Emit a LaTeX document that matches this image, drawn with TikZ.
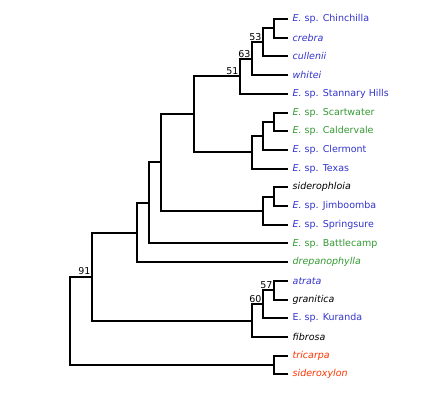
\documentclass[tikz,border=0pt]{standalone}
\usepackage{fontspec}
\setmainfont{DejaVu Sans}
\usepackage{tikz}
\usetikzlibrary{positioning}
\definecolor{cladeblue}{RGB}{51,51,204}
\definecolor{cladegreen}{RGB}{51,153,51}
\definecolor{cladered}{RGB}{255,51,0}
\tikzstyle{branch}=[line width=2pt, line cap=rect]
\tikzstyle{taxon}=[anchor=west, inner xsep=5.5pt, inner ysep=0pt, font=\fontsize{9.5}{11}\selectfont]
\tikzstyle{support}=[anchor=south east, inner sep=1.4pt, font=\fontsize{9.5}{11}\selectfont]

\begin{document}
\begin{tikzpicture}[x=1pt, y=-1pt]
      \useasboundingbox (0,0) rectangle (421,392);

      % leaves
      \node[taxon, cladeblue] (chin) at (287,19) {\textit{E.} sp. Chinchilla};
      \node[taxon, cladeblue] (creb) at (287,37.7) {\textit{crebra}};
      \node[taxon, cladeblue] (cull) at (287,56.4) {\textit{cullenii}};
      \node[taxon, cladeblue] (whit) at (287,75.1) {\textit{whitei}};
      \node[taxon, cladeblue] (stan) at (287,93.8) {\textit{E.} sp. Stannary Hills};
      \node[taxon, cladegreen] (scar) at (287,112.5) {\textit{E.} sp. Scartwater};
      \node[taxon, cladegreen] (cald) at (287,131.2) {\textit{E.} sp. Caldervale};
      \node[taxon, cladeblue] (cler) at (287,149.9) {\textit{E.} sp. Clermont};
      \node[taxon, cladeblue] (texa) at (287,168.6) {\textit{E.} sp. Texas};
      \node[taxon] (sidp) at (287,187.3) {\textit{siderophloia}};
      \node[taxon, cladeblue] (jimb) at (287,206) {\textit{E.} sp. Jimboomba};
      \node[taxon, cladeblue] (spri) at (287,224.7) {\textit{E.} sp. Springsure};
      \node[taxon, cladegreen] (batt) at (287,243.4) {\textit{E.} sp. Battlecamp};
      \node[taxon, cladegreen] (drep) at (287,262.1) {\textit{drepanophylla}};
      \node[taxon, cladeblue] (atra) at (287,280.8) {\textit{atrata}};
      \node[taxon] (gran) at (287,299.5) {\textit{granitica}};
      \node[taxon, cladeblue] (kura) at (287,318.2) {E. sp. Kuranda};
      \node[taxon] (fibr) at (287,336.9) {\textit{fibrosa}};
      \node[taxon, cladered] (tric) at (287,355.6) {\textit{tricarpa}};
      \node[taxon, cladered] (sidx) at (287,374.3) {\textit{sideroxylon}};

      % internal nodes
      \coordinate (cA) at (274,28.35);
      \coordinate (n53) at (263,42.38);
      \coordinate (n63) at (252,58.74);
      \coordinate (n51) at (240,76.27);
      \coordinate (cB) at (274,121.85);
      \coordinate (cC) at (263,135.88);
      \coordinate (cD) at (252,152.24);
      \coordinate (cE) at (194,114.25);
      \coordinate (cF) at (274,196.65);
      \coordinate (cG) at (263,210.68);
      \coordinate (cH) at (161,162.46);
      \coordinate (cI) at (149,202.93);
      \coordinate (cJ) at (137,232.5);
      \coordinate (n57) at (274,290.15);
      \coordinate (n60) at (263,304.18);
      \coordinate (cK) at (252,320.54);
      \coordinate (n91) at (92,276.52);
      \coordinate (cL) at (274,364.95);
      \coordinate (root) at (70,320.7);

      % branches
      \draw[branch] (cA) |- (chin.west) (cA) |- (creb.west);
      \draw[branch] (n53) |- (cA) (n53) |- (cull.west);
      \draw[branch] (n63) |- (n53) (n63) |- (whit.west);
      \draw[branch] (n51) |- (n63) (n51) |- (stan.west);
      \draw[branch] (cB) |- (scar.west) (cB) |- (cald.west);
      \draw[branch] (cC) |- (cB) (cC) |- (cler.west);
      \draw[branch] (cD) |- (cC) (cD) |- (texa.west);
      \draw[branch] (cE) |- (n51) (cE) |- (cD);
      \draw[branch] (cF) |- (sidp.west) (cF) |- (jimb.west);
      \draw[branch] (cG) |- (cF) (cG) |- (spri.west);
      \draw[branch] (cH) |- (cE) (cH) |- (cG);
      \draw[branch] (cI) |- (cH) (cI) |- (batt.west);
      \draw[branch] (cJ) |- (cI) (cJ) |- (drep.west);
      \draw[branch] (n57) |- (atra.west) (n57) |- (gran.west);
      \draw[branch] (n60) |- (n57) (n60) |- (kura.west);
      \draw[branch] (cK) |- (n60) (cK) |- (fibr.west);
      \draw[branch] (n91) |- (cJ) (n91) |- (cK);
      \draw[branch] (cL) |- (tric.west) (cL) |- (sidx.west);
      \draw[branch] (root) |- (n91) (root) |- (cL);

      % bootstrap values
      \node[support] (s53) at (n53) {53};
      \node[support] (s63) at (n63) {63};
      \node[support] (s51) at (n51) {51};
      \node[support] (s57) at (n57) {57};
      \node[support] (s60) at (n60) {60};
      \node[support] (s91) at (n91) {91};
\end{tikzpicture}
\end{document}
